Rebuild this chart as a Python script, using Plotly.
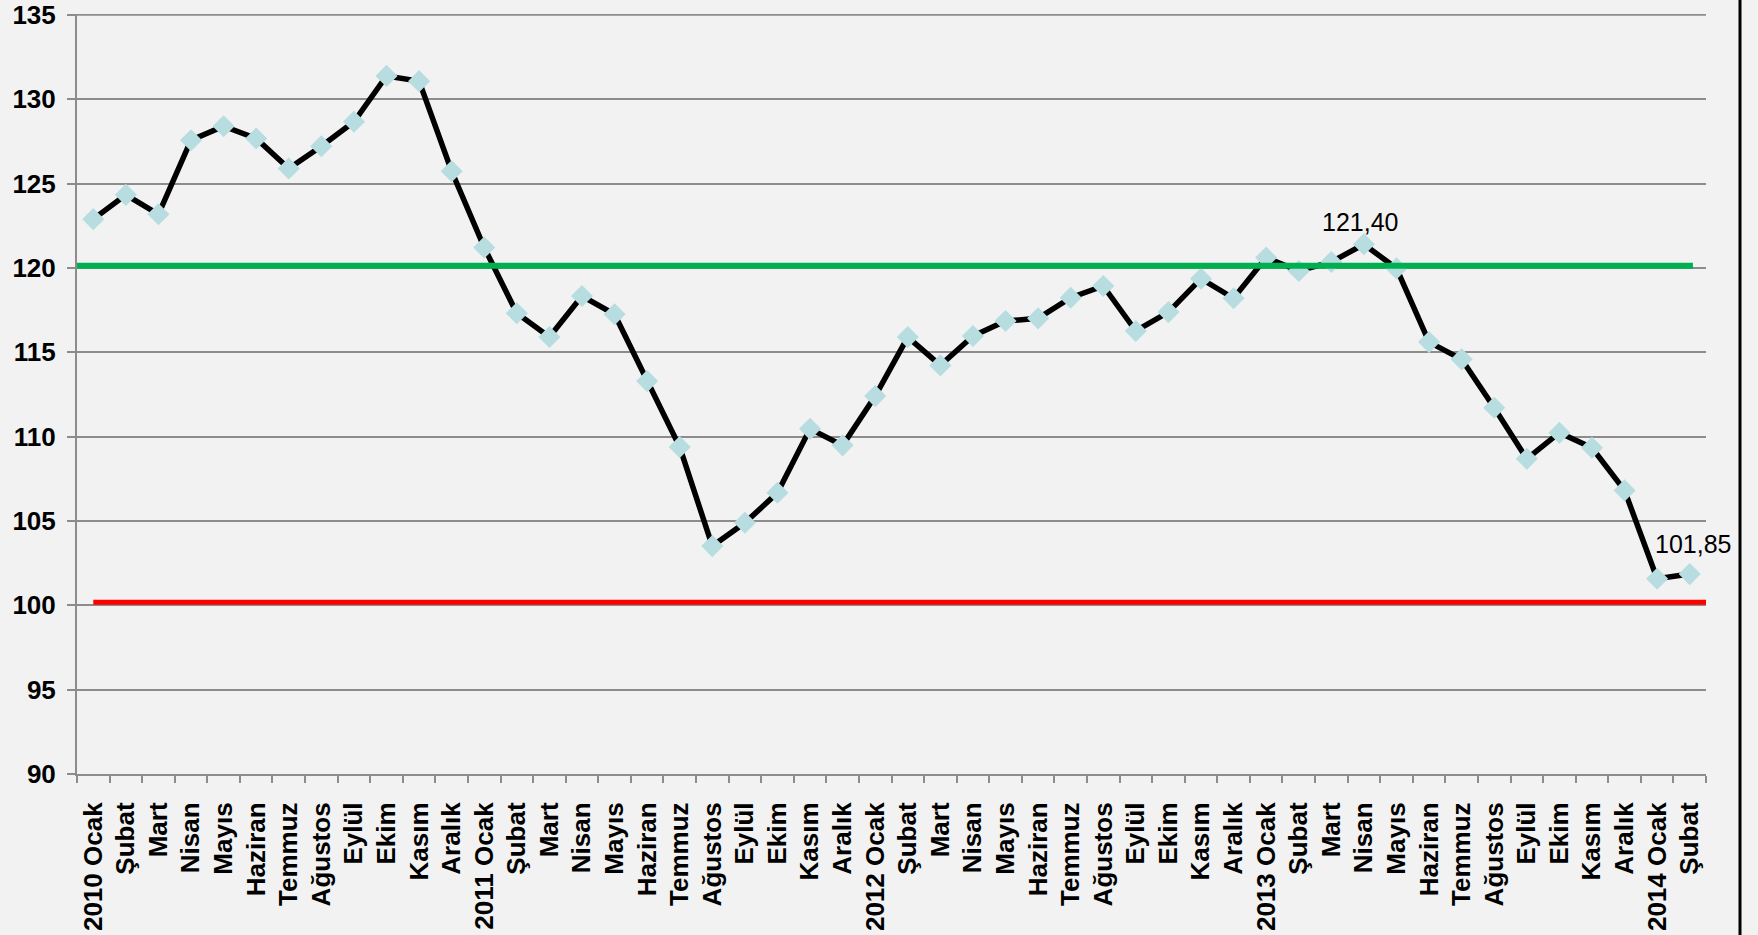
import plotly.graph_objects as go

# ---- data ----
months = ["Ocak", "Şubat", "Mart", "Nisan", "Mayıs", "Haziran", "Temmuz",
          "Ağustos", "Eylül", "Ekim", "Kasım", "Aralık"]
labels = []
for yr in [2010, 2011, 2012, 2013]:
    labels += [f"{yr} Ocak"] + months[1:]
labels += ["2014 Ocak", "Şubat"]

values_2010 = [122.89, 124.33, 123.18, 127.57, 128.40, 127.67, 125.89, 127.21, 128.66, 131.38, 131.07, 125.73]
values_2011 = [121.21, 117.31, 115.90, 118.33, 117.25, 113.29, 109.38, 103.51, 104.89, 106.67, 110.46, 109.48]
values_2012 = [112.40, 115.90, 114.22, 115.96, 116.85, 117.01, 118.23, 118.93, 116.26, 117.38, 119.36, 118.20]
values_2013 = [120.61, 119.82, 120.35, 121.40, 119.97, 115.60, 114.58, 111.71, 108.68, 110.23, 109.34, 106.81]
values_2014 = [101.57, 101.85]
values = values_2010 + values_2011 + values_2012 + values_2013 + values_2014

upper_level = 120.13   # green reference line
lower_level = 100.18   # red reference line

annotated = {39: "121,40", 49: "101,85"}

y_ticks = [90, 95, 100, 105, 110, 115, 120, 125, 130, 135]

# ---- figure ----
x_idx = list(range(len(values)))
GRID = "#8c8c8c"
BG = "#f2f2f2"
FONT = "Liberation Sans, Arial, sans-serif"
x_lo, x_hi = -0.5, len(values) - 0.5

fig = go.Figure()
fig.add_trace(go.Scatter(
    x=x_idx, y=values, mode="lines+markers",
    line=dict(color="black", width=5.5),
    marker=dict(symbol="diamond", size=17, color="#b7dde1", line=dict(width=0)),
    showlegend=False, hoverinfo="y", cliponaxis=False,
))

# top gridline (plotly drops the one at the range edge)
fig.add_shape(type="line", xref="x", yref="y", x0=x_lo, x1=x_hi,
              y0=y_ticks[-1], y1=y_ticks[-1], layer="below",
              line=dict(color=GRID, width=2))

# reference lines
fig.add_shape(type="line", xref="x", yref="y", x0=-0.75, x1=49.1,
              y0=upper_level, y1=upper_level, line=dict(color="#00b050", width=6))
fig.add_shape(type="line", xref="x", yref="y", x0=0.0, x1=49.55,
              y0=lower_level, y1=lower_level, line=dict(color="#ff0000", width=5))

for i, txt in annotated.items():
    fig.add_annotation(x=x_idx[i], y=values[i], text=txt, showarrow=False,
                       yshift=22 if i == 39 else 30, xshift=-4 if i == 39 else 3,
                       font=dict(family=FONT, size=25, color="black"))

# right chart border
L, R = 77, 52
pw = 1758 - L - R
fig.add_shape(type="line", xref="paper", yref="paper",
              x0=(1740 - L) / pw, x1=(1740 - L) / pw, y0=-0.4, y1=1.1,
              line=dict(color="black", width=3))

fig.update_layout(
    width=1758, height=935,
    margin=dict(l=L, r=R, t=14, b=161),
    paper_bgcolor=BG, plot_bgcolor=BG,
    font=dict(family=FONT, color="black"),
)
fig.update_xaxes(
    range=[x_lo, x_hi], automargin=False,
    tickmode="array", tickvals=x_idx, ticktext=labels, tickangle=-90,
    ticks="", showgrid=False, zeroline=False,
    showline=True, linecolor=GRID, linewidth=2,
    tickfont=dict(family=FONT, size=26, color="black", weight="bold"),
    ticklabelstandoff=16, ticklabeloverflow="allow",
    minor=dict(tickmode="linear", tick0=-0.5, dtick=1, ticks="outside",
               ticklen=7, tickcolor=GRID, tickwidth=2, showgrid=False),
)
fig.update_yaxes(
    range=[90, 135.05], automargin=False, tickmode="array", tickvals=y_ticks,
    showgrid=True, gridcolor=GRID, gridwidth=2, zeroline=False,
    showline=True, linecolor=GRID, linewidth=2,
    ticks="outside", ticklen=8, tickcolor=GRID, tickwidth=2,
    tickfont=dict(family=FONT, size=26, color="black", weight="bold"),
    ticklabelstandoff=6, ticklabeloverflow="allow",
)

fig.write_html(
    "out.html",
    config={"displayModeBar": False},
    post_script="document.body.style.margin='0';document.body.style.background='#f2f2f2';document.body.style.overflow='hidden';",
)
